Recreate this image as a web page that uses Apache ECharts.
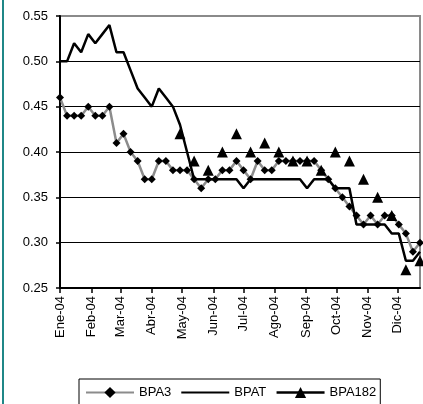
<!DOCTYPE html>
<html>
<head>
<meta charset="utf-8">
<script src="https://cdn.jsdelivr.net/npm/echarts@6/dist/echarts.min.js"></script>
<style>
  html, body { margin: 0; padding: 0; background: #fff; }
  #chart { width: 423px; height: 404px; }
</style>
</head>
<body>
<div id="chart"></div>
<script>
// Weekly observation dates (2004)
const weekDates = [
  '2004-01-01','2004-01-08','2004-01-15','2004-01-22','2004-01-29',
  '2004-02-05','2004-02-12','2004-02-19','2004-02-26',
  '2004-03-04','2004-03-11','2004-03-18','2004-03-25',
  '2004-04-01','2004-04-08','2004-04-15','2004-04-22','2004-04-29',
  '2004-05-06','2004-05-13','2004-05-20','2004-05-27',
  '2004-06-03','2004-06-10','2004-06-17','2004-06-24',
  '2004-07-01','2004-07-08','2004-07-15','2004-07-22','2004-07-29',
  '2004-08-05','2004-08-12','2004-08-19','2004-08-26',
  '2004-09-02','2004-09-09','2004-09-16','2004-09-23','2004-09-30',
  '2004-10-07','2004-10-14','2004-10-21','2004-10-28',
  '2004-11-04','2004-11-11','2004-11-18','2004-11-25',
  '2004-12-02','2004-12-09','2004-12-16','2004-12-23'
];

// Month ticks and their labels
const monthTicks = [
  '2004-01-01','2004-02-01','2004-03-01','2004-04-01','2004-05-01','2004-06-01',
  '2004-07-01','2004-08-01','2004-09-01','2004-10-01','2004-11-01','2004-12-01'
];
const monthLabels = ['Ene-04','Feb-04','Mar-04','Abr-04','May-04','Jun-04',
                     'Jul-04','Ago-04','Sep-04','Oct-04','Nov-04','Dic-04'];

const seriesNames = ['BPA3', 'BPAT', 'BPA182'];

const bpa3 = [
  0.46, 0.44, 0.44, 0.44, 0.45, 0.44, 0.44, 0.45, 0.41, 0.42,
  0.40, 0.39, 0.37, 0.37, 0.39, 0.39, 0.38, 0.38, 0.38, 0.37,
  0.36, 0.37, 0.37, 0.38, 0.38, 0.39, 0.38, 0.37, 0.39, 0.38,
  0.38, 0.39, 0.39, 0.39, 0.39, 0.39, 0.39, 0.38, 0.37, 0.36,
  0.35, 0.34, 0.33, 0.32, 0.33, 0.32, 0.33, 0.33, 0.32, 0.31,
  0.29, 0.30
];

const bpat = [
  0.50, 0.50, 0.52, 0.51, 0.53, 0.52, 0.53, 0.54, 0.51, 0.51,
  0.49, 0.47, 0.46, 0.45, 0.47, 0.46, 0.45, 0.43, 0.40, 0.37,
  0.37, 0.37, 0.37, 0.37, 0.37, 0.37, 0.36, 0.37, 0.37, 0.37,
  0.37, 0.37, 0.37, 0.37, 0.37, 0.36, 0.37, 0.37, 0.37, 0.36,
  0.36, 0.36, 0.32, 0.32, 0.32, 0.32, 0.32, 0.31, 0.31, 0.28,
  0.28, 0.29
];

const bpa182 = [
  null, null, null, null, null, null, null, null, null, null,
  null, null, null, null, null, null, null, 0.42, null, 0.39,
  null, 0.38, null, 0.40, null, 0.42, null, 0.40, null, 0.41,
  null, 0.40, null, 0.39, null, 0.39, null, 0.38, null, 0.40,
  null, 0.39, null, 0.37, null, 0.35, null, 0.33, null, 0.27,
  null, 0.28
];

// Dates are placed on a numeric day-of-year axis
const DAY = 86400000;
const dayOf = s => Math.round((Date.UTC(+s.slice(0, 4), +s.slice(5, 7) - 1, +s.slice(8, 10)) - Date.UTC(2004, 0, 1)) / DAY);
const tickDays = monthTicks.map(dayOf);
const toPairs = vals => weekDates.map((d, i) => [dayOf(d), vals[i] == null ? '-' : vals[i]]);
const FONT = '"Liberation Sans", Arial, sans-serif';

const chart = echarts.init(document.getElementById('chart'), null, { renderer: 'canvas' });

chart.setOption({
  animation: false,
  backgroundColor: '#ffffff',
  textStyle: { fontFamily: FONT, color: '#000' },
  graphic: [{
    type: 'rect',
    left: 2, top: 0,
    shape: { width: 2, height: 404 },
    style: { fill: '#1f8787' },
    silent: true
  }],
  grid: {
    left: 60, right: 3, top: 16, bottom: 116,
    show: true,
    borderColor: '#8a8a8a',
    borderWidth: 2,
    backgroundColor: '#ffffff'
  },
  xAxis: {
    type: 'value',
    min: dayOf(weekDates[0]),
    max: dayOf(weekDates[weekDates.length - 1]),
    axisLine: { show: true, onZero: false, lineStyle: { color: '#000', width: 2 } },
    axisTick: {
      show: true, length: 5, inside: false,
      customValues: tickDays,
      lineStyle: { color: '#000', width: 1.5 }
    },
    axisLabel: {
      customValues: tickDays,
      rotate: 90,
      margin: 8,
      fontSize: 13,
      fontFamily: FONT,
      color: '#000',
      showMinLabel: true,
      formatter: v => monthLabels[tickDays.indexOf(v)]
    },
    splitLine: { show: false }
  },
  yAxis: {
    type: 'value',
    min: 0.25, max: 0.55, interval: 0.05,
    axisLine: { show: true, lineStyle: { color: '#000', width: 2 } },
    axisTick: { show: true, length: 4, lineStyle: { color: '#000', width: 1.5 } },
    axisLabel: {
      margin: 12,
      fontSize: 13,
      fontFamily: FONT,
      color: '#000',
      formatter: v => v.toFixed(2)
    },
    splitLine: {
      show: true,
      lineStyle: {
        color: ['#000', '#000', '#000', '#000', '#000', '#000', '#8a8a8a'],
        width: 1
      }
    }
  },
  legend: {
    left: 79, top: 379,
    orient: 'horizontal',
    itemWidth: 48, itemHeight: 14, itemGap: 9,
    padding: [7, 4, 12, 6],
    borderColor: '#000', borderWidth: 1,
    backgroundColor: '#fff',
    textStyle: { fontSize: 13, fontFamily: FONT, color: '#000' },
    data: [
      { name: seriesNames[0] },
      { name: seriesNames[1], itemStyle: { opacity: 0 } },
      { name: seriesNames[2], lineStyle: { color: '#000', width: 2.5, opacity: 1, type: 'solid' } }
    ]
  },
  series: [
    {
      name: seriesNames[0],
      type: 'line',
      data: toPairs(bpa3),
      symbol: 'diamond',
      symbolSize: 8,
      showAllSymbol: true,
      lineStyle: { color: '#8c8c8c', width: 2.5 },
      itemStyle: { color: '#000' },
      emphasis: { disabled: true }
    },
    {
      name: seriesNames[1],
      type: 'line',
      data: toPairs(bpat),
      symbol: 'none',
      lineStyle: { color: '#000', width: 2.5 },
      itemStyle: { color: '#000' },
      emphasis: { disabled: true }
    },
    {
      name: seriesNames[2],
      type: 'line',
      data: toPairs(bpa182),
      symbol: 'triangle',
      symbolSize: 11,
      showAllSymbol: true,
      connectNulls: false,
      lineStyle: { color: '#000', width: 2.5, opacity: 0 },
      itemStyle: { color: '#000' },
      emphasis: { disabled: true }
    }
  ]
});
</script>
</body>
</html>
